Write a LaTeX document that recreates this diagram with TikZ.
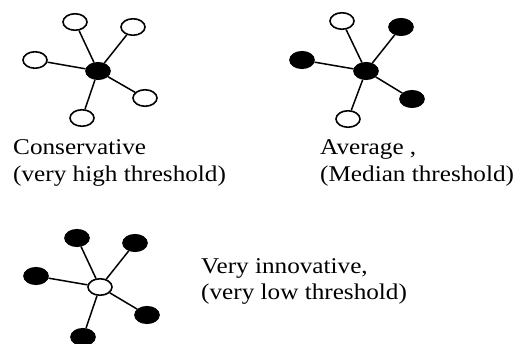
\documentclass[tikz,border=0pt]{standalone}
\usepackage{fontspec}
\setmainfont{Liberation Serif}
\usetikzlibrary{shapes.geometric}
\newcommand{\wide}[1]{\scalebox{1.12}[1]{#1}}
\begin{document}
\begin{tikzpicture}[x=1pt,y=-1pt,
  agent/.style={ellipse,draw,line width=1.6pt,minimum width=24pt,minimum height=16.5pt,inner sep=0pt},
  adopter/.style={agent,fill=black},
  nonadopter/.style={agent,fill=white},
  tie/.style={line width=1.5pt},
  caption/.style={anchor=base west,inner sep=0pt,font=\fontsize{22.5}{27}\selectfont}]
\useasboundingbox (0,0) rectangle (519,344);
% group 1
\node[adopter] (c1) at (98,71) {};
\node[nonadopter] (t1) at (75,22) {};
\node[nonadopter] (tr1) at (133,27) {};
\node[nonadopter] (l1) at (35,60) {};
\node[nonadopter] (r1) at (145,98) {};
\node[nonadopter] (b1) at (82,118) {};
\foreach \n in {t1,tr1,l1,r1,b1} \draw[tie] (c1) -- (\n);
% group 2
\node[adopter] (c2) at (366,71) {};
\node[nonadopter] (t2) at (342,21) {};
\node[adopter] (tr2) at (401,27) {};
\node[adopter] (l2) at (302,60) {};
\node[adopter] (r2) at (412,99) {};
\node[nonadopter] (b2) at (348,119) {};
\foreach \n in {t2,tr2,l2,r2,b2} \draw[tie] (c2) -- (\n);
% group 3
\node[nonadopter] (c3) at (100,287) {};
\node[adopter] (t3) at (77,238) {};
\node[adopter] (tr3) at (135,243) {};
\node[adopter] (l3) at (36,276) {};
\node[adopter] (r3) at (147,315) {};
\node[adopter] (b3) at (83,337) {};
\foreach \n in {t3,tr3,l3,r3,b3} \draw[tie] (c3) -- (\n);
% captions
\node[caption] (cap1a) at (13,155) {\wide{Conservative}};
\node[caption] (cap1b) at (13,182) {\wide{(very high threshold)}};
\node[caption] (cap2a) at (320,155) {\wide{Average ,}};
\node[caption] (cap2b) at (320,182) {\wide{(Median threshold)}};
\node[caption] (cap3a) at (201,274) {\wide{Very innovative,}};
\node[caption] (cap3b) at (201,300) {\wide{(very low threshold)}};
\end{tikzpicture}
\end{document}
